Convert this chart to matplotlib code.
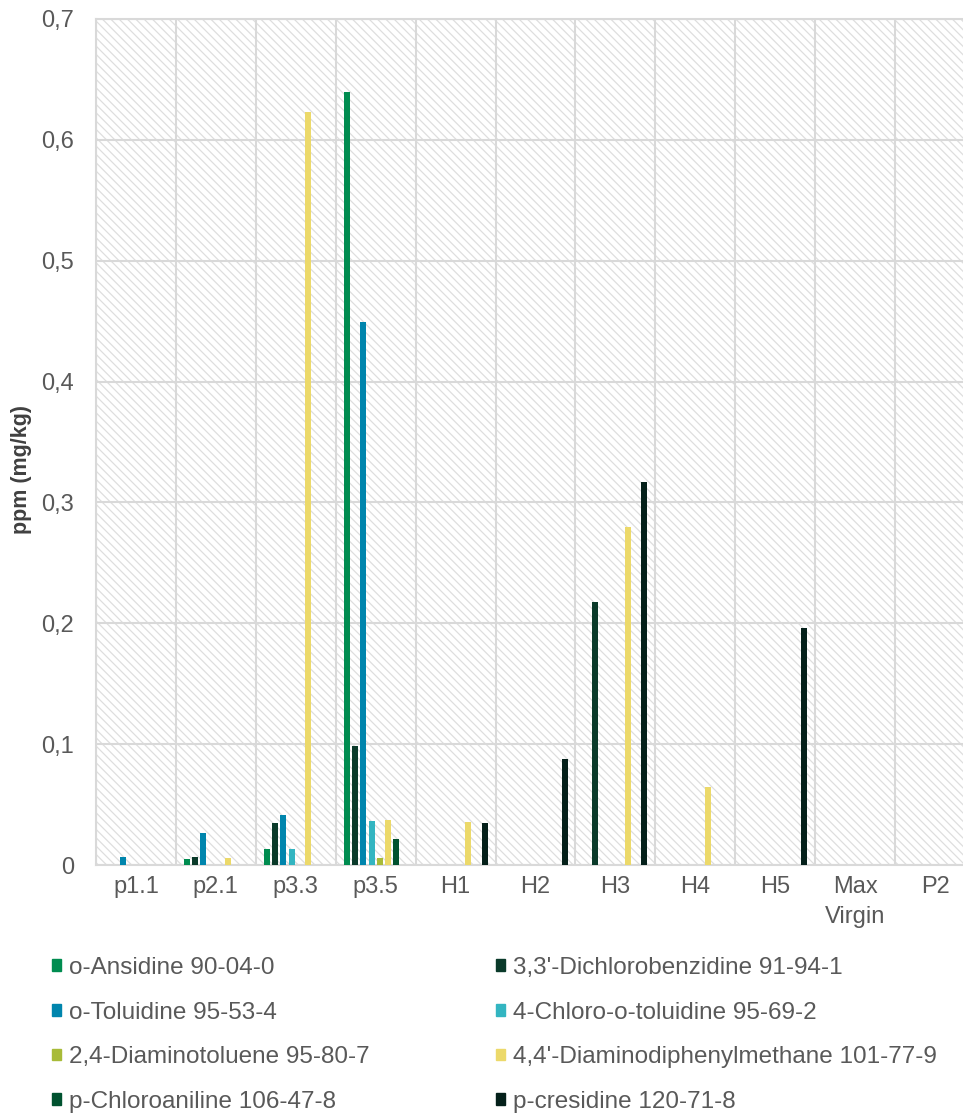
import matplotlib
matplotlib.use('Agg')
import matplotlib.pyplot as plt
import matplotlib.patches as mpatches
import numpy as np

plt.rcParams['font.family'] = ['Liberation Sans', 'DejaVu Sans']
plt.rcParams['hatch.color'] = '#dedede'
plt.rcParams['hatch.linewidth'] = 0.9

# data
categories = ['p1.1', 'p2.1', 'p3.3', 'p3.5', 'H1', 'H2', 'H3', 'H4', 'H5', 'Max\nVirgin', 'P2']
series_names = ['o-Ansidine 90-04-0', "3,3'-Dichlorobenzidine 91-94-1",
                'o-Toluidine 95-53-4', '4-Chloro-o-toluidine 95-69-2',
                '2,4-Diaminotoluene 95-80-7', "4,4'-Diaminodiphenylmethane 101-77-9",
                'p-Chloroaniline 106-47-8', 'p-cresidine 120-71-8']
colors = ['#008c50', '#0a3a2a', '#0085ad', '#33b5c1', '#a8bb38', '#ecd96a', '#00522f', '#04201a']

o_ansidine    = [0, 0.0047, 0.0135, 0.640, 0, 0, 0, 0, 0, 0, 0]
dichlorobenz  = [0, 0.0066, 0.0347, 0.0985, 0, 0, 0.218, 0, 0, 0, 0]
o_toluidine   = [0.0064, 0.0265, 0.0416, 0.449, 0, 0, 0, 0, 0, 0, 0]
chloro_tol    = [0, 0, 0.0135, 0.0364, 0, 0, 0, 0, 0, 0, 0]
diaminotol    = [0, 0, 0, 0.006, 0, 0, 0, 0, 0, 0, 0]
diaminodiph   = [0, 0.0055, 0.623, 0.0375, 0.0356, 0, 0.280, 0.0643, 0, 0, 0]
chloroaniline = [0, 0, 0, 0.0218, 0, 0, 0, 0, 0, 0, 0]
p_cresidine   = [0, 0, 0, 0, 0.035, 0.0875, 0.317, 0, 0.196, 0, 0]

values = [o_ansidine, dichlorobenz, o_toluidine, chloro_tol,
          diaminotol, diaminodiph, chloroaniline, p_cresidine]

W, H = 963, 1113
fig = plt.figure(figsize=(W / 100, H / 100), dpi=100)
ax = fig.add_axes([96 / W, (H - 865) / H, (975 - 96) / W, (865 - 19) / H])

ax.patch.set_facecolor('white')
ax.patch.set_edgecolor('#dedede')
ax.patch.set_hatch('\\\\\\\\')
ax.patch.set_linewidth(0)

x = np.arange(len(categories))
step = 0.104
bw = 0.075
handles = []
for j, (vals, c) in enumerate(zip(values, colors)):
    ax.bar(x + (j - 3.5) * step, vals, width=bw, color=c, zorder=3)
    handles.append(mpatches.Patch(color=c))

ax.set_xlim(-0.5, 10.5)
ax.set_ylim(0, 0.7)
ax.set_yticks(np.arange(0, 0.71, 0.1))
ax.set_yticklabels(['0'] + [('%.1f' % v).replace('.', ',') for v in np.arange(0.1, 0.71, 0.1)])
ax.set_xticks(x)
ax.set_xticklabels(categories)
ax.set_xticks(np.arange(-0.5, 11, 1), minor=True)

ax.grid(axis='y', which='major', color='#d9d9d9', linewidth=1.5, zorder=1)
ax.grid(axis='x', which='minor', color='#d9d9d9', linewidth=1.5, zorder=1)
ax.set_axisbelow(True)
for s in ax.spines.values():
    s.set_color('#d9d9d9')
    s.set_linewidth(1.5)

ax.tick_params(axis='both', which='both', length=0, colors='#595959', labelsize=17)
ax.tick_params(axis='x', pad=8)
ax.tick_params(axis='y', pad=16)
for lab in ax.get_xticklabels():
    lab.set_linespacing(1.45)

fig.text(22 / W, 1 - 470 / H, 'ppm (mg/kg)', rotation=90, fontsize=15.5, fontweight='bold',
         color='#404040', ha='center', va='center')

labels_left = [series_names[i] for i in (0, 2, 4, 6)]
labels_right = [series_names[i] for i in (1, 3, 5, 7)]
kw = dict(loc='upper left', frameon=False, fontsize=17.5, labelcolor='#595959',
          handlelength=0.38, handleheight=0.38, handletextpad=0.3, labelspacing=0.93,
          borderpad=0, borderaxespad=0)
fig.legend([handles[i] for i in (0, 2, 4, 6)], labels_left,
           bbox_to_anchor=(52 / W, 1 - 957 / H), **kw)
fig.legend([handles[i] for i in (1, 3, 5, 7)], labels_right,
           bbox_to_anchor=(496 / W, 1 - 957 / H), **kw)

fig.savefig('out.png', dpi=100)
